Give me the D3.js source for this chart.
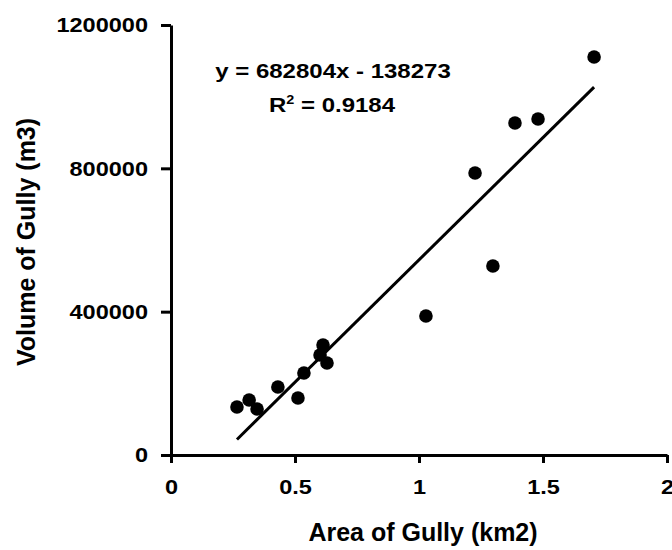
<!DOCTYPE html>
<meta charset="utf-8">
<style>
body { margin: 0; background: #fff; }
svg text { font-family: "Liberation Sans", Arial, sans-serif; font-weight: bold; fill: #000; }
.tick-label { font-size: 21px; }
.axis-title { font-size: 25px; }
.eq { font-size: 20px; }
</style>
<svg width="672" height="550"></svg>
<script src="https://d3js.org/d3.v7.min.js"></script>
<script>

// Gully data
var areaKm2 = [0.266, 0.315, 0.347, 0.431, 0.512, 0.536, 0.601, 0.613, 0.629, 1.028, 1.226, 1.298, 1.387, 1.480, 1.706];
var volumeM3 = [134000, 153500, 128400, 189800, 159000, 228800, 279000, 307000, 256700, 387900, 787000, 527400, 926500, 937700, 1110700];

var xTicks = [0, 0.5, 1, 1.5, 2];
var yTicks = [0, 400000, 800000, 1200000];

// fitted trendline shown on the chart
var slope = 682804, intercept = -138273, r2 = 0.9184;

var svg = d3.select("svg");

var x = d3.scaleLinear().domain([0, 2]).range([171, 667]);
var y = d3.scaleLinear().domain([0, 1200000]).range([455, 25]);

// the original text is a bit wider than Arial, stretch it
function widen(sel, k) {
  sel.each(function() {
    var len = this.getComputedTextLength();
    d3.select(this).attr("textLength", len * k).attr("lengthAdjust", "spacingAndGlyphs");
  });
}

// axes
var xAxis = svg.append("g")
    .attr("transform", "translate(0," + y(0) + ")")
    .call(d3.axisBottom(x).tickValues(xTicks).tickSize(8).tickSizeOuter(0).tickPadding(16).tickFormat(d3.format("")));

var yAxis = svg.append("g")
    .attr("transform", "translate(" + x(0) + ",0)")
    .call(d3.axisLeft(y).tickValues(yTicks).tickSize(10).tickSizeOuter(0).tickPadding(13).tickFormat(d3.format("d")));

xAxis.attr("font-size", null).attr("font-family", null);
yAxis.attr("font-size", null).attr("font-family", null);

svg.selectAll(".domain, .tick line")
    .style("stroke", "#000")
    .style("stroke-width", "3px");

svg.selectAll(".tick text")
    .attr("class", "tick-label")
    .call(widen, 1.12);

// trendline over the data range
var xMin = d3.min(areaKm2), xMax = d3.max(areaKm2);
svg.append("line")
    .attr("x1", x(xMin))
    .attr("y1", y(slope * xMin + intercept))
    .attr("x2", x(xMax))
    .attr("y2", y(slope * xMax + intercept))
    .attr("stroke", "#000")
    .attr("stroke-width", 3);

// points
svg.selectAll(".dot")
    .data(areaKm2)
    .join("circle")
      .attr("class", "dot")
      .attr("cx", d => x(d))
      .attr("cy", (d, i) => y(volumeM3[i]))
      .attr("r", 6.8)
      .attr("fill", "#000");

// equation label
svg.append("text")
    .attr("class", "eq")
    .attr("text-anchor", "middle")
    .attr("x", 333)
    .attr("y", 78)
    .text("y = " + slope + "x - " + Math.abs(intercept))
    .call(widen, 1.2);

var r2Text = svg.append("text")
    .attr("class", "eq")
    .attr("text-anchor", "middle")
    .attr("x", 332)
    .attr("y", 112);
r2Text.append("tspan").text("R");
r2Text.append("tspan").attr("font-size", "12px").attr("dy", -8).text("2");
r2Text.append("tspan").attr("dy", 8).text(" = " + r2);
r2Text.call(widen, 1.2);

// axis titles
svg.append("text")
    .attr("class", "axis-title")
    .attr("text-anchor", "middle")
    .attr("x", 423)
    .attr("y", 541)
    .text("Area of Gully (km2)");

svg.append("text")
    .attr("class", "axis-title")
    .attr("text-anchor", "middle")
    .attr("transform", "translate(35,242) rotate(-90)")
    .text("Volume of Gully (m3)");

</script>
